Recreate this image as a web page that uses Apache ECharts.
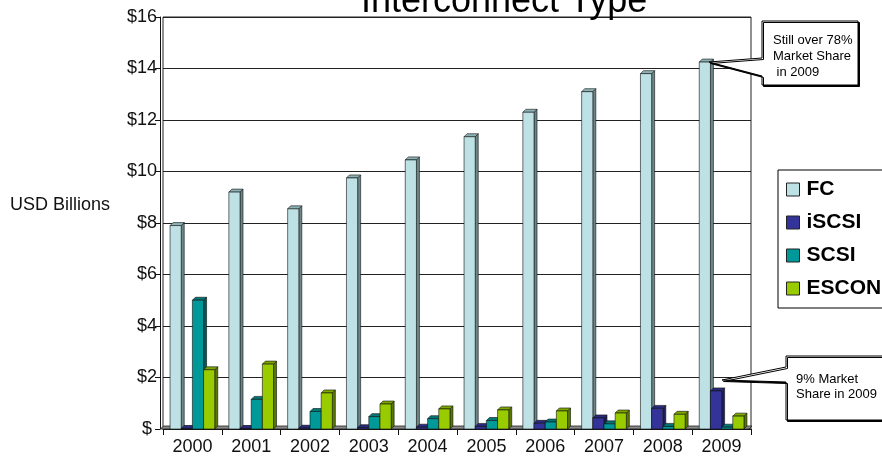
<!DOCTYPE html>
<html>
<head>
<meta charset="utf-8">
<script src="https://cdn.jsdelivr.net/npm/echarts@6/dist/echarts.min.js"></script>
<style>
  html, body { margin: 0; padding: 0; background: #fff; }
  #chart { width: 882px; height: 459px; }
</style>
</head>
<body>
<div id="chart"></div>
<script>
// data
const years = ['2000', '2001', '2002', '2003', '2004', '2005', '2006', '2007', '2008', '2009']
const fcValues = [7.9, 9.2, 8.55, 9.75, 10.45, 11.35, 12.3, 13.1, 13.8, 14.25]
const iscsiValues = [0.02, 0.02, 0.03, 0.05, 0.07, 0.1, 0.22, 0.43, 0.8, 1.48]
const scsiValues = [5.0, 1.15, 0.68, 0.48, 0.4, 0.33, 0.27, 0.2, 0.1, 0.07]
const esconValues = [2.3, 2.52, 1.4, 0.97, 0.78, 0.74, 0.7, 0.62, 0.57, 0.5]
const seriesNames = ['FC', 'iSCSI', 'SCSI', 'ESCON']
const yTickLabels = ['$ ', '$2', '$4', '$6', '$8', '$10', '$12', '$14', '$16']

// front / side / top colours for the fake 3D bars
const faceColors = [
  ['#BDE1E4', '#6C8789', '#8DB1B4'],
  ['#333399', '#1E1E5E', '#2A2A7E'],
  ['#009999', '#005858', '#007777'],
  ['#99CC00', '#5A7800', '#7DA600']
]

const chart = echarts.init(document.getElementById('chart'), null, { renderer: 'canvas' })

const depth = 3
const font = 'Liberation Sans, Arial, sans-serif'

// draws one 3D box per value using the axes' own coordinate system
const renderBar3D = (params, api) => {
  const si = params.seriesIndex
  const cat = api.value(0)
  const val = api.value(1)
  const top = api.coord([cat, val])
  const base = api.coord([cat, 0])
  const catW = api.size([1, 0])[0]
  const barW = catW * 0.19
  const x = top[0] - barW * 2 + si * barW
  const y = top[1]
  const y0 = base[1]
  const cols = faceColors[si]
  const line = { stroke: '#111', lineWidth: 0.6 }
  return {
    type: 'group',
    children: [
      {
        type: 'polygon',
        shape: { points: [[x + barW, y], [x + barW + depth, y - depth], [x + barW + depth, y0 - depth], [x + barW, y0]] },
        style: { fill: cols[1], ...line }
      },
      {
        type: 'polygon',
        shape: { points: [[x, y], [x + depth, y - depth], [x + barW + depth, y - depth], [x + barW, y]] },
        style: { fill: cols[2], ...line }
      },
      {
        type: 'rect',
        shape: { x: x, y: y, width: barW, height: y0 - y },
        style: { fill: cols[0], ...line }
      }
    ]
  }
}

const makeSeries = (name, values) => ({
  name,
  type: 'custom',
  renderItem: renderBar3D,
  encode: { x: 0, y: 1 },
  data: values.map((v, i) => [i, v]),
  z: 3
})

const option = {
  animation: false,
  backgroundColor: '#fff',
  color: faceColors.map((c) => c[0]),
  textStyle: { fontFamily: font },
  title: {
    text: 'Interconnect Type',
    left: 356,
    top: -21,
    textStyle: { fontSize: 36, fontWeight: 'normal', color: '#000', fontFamily: font }
  },
  legend: {
    orient: 'vertical',
    left: 778,
    top: 170,
    padding: [9, 60, 9, 8],
    itemGap: 12,
    itemWidth: 13,
    itemHeight: 13,
    borderColor: '#000',
    borderWidth: 1,
    backgroundColor: '#fff',
    textStyle: { fontSize: 21, fontWeight: 'bold', color: '#000', padding: [0, 0, 0, 2] },
    data: seriesNames.map((n, i) => ({
      name: n,
      icon: 'rect',
      itemStyle: { color: faceColors[i][0], borderColor: '#222', borderWidth: 1 }
    }))
  },
  grid: { left: 163, right: 131, top: 17, bottom: 30, show: true, borderColor: '#222', borderWidth: 1 },
  xAxis: {
    type: 'category',
    data: years,
    boundaryGap: true,
    axisLine: { show: true, lineStyle: { color: '#111', width: 1 } },
    axisTick: { show: true, length: 6, lineStyle: { color: '#111' } },
    axisLabel: { color: '#111', fontSize: 18, margin: 9 },
    splitLine: { show: false }
  },
  yAxis: {
    type: 'value',
    min: 0,
    max: 16,
    interval: 2,
    offset: 3,
    axisLine: { show: true, lineStyle: { color: '#111', width: 1 } },
    axisTick: { show: true, length: 5, lineStyle: { color: '#111' } },
    axisLabel: {
      color: '#111',
      fontSize: 18,
      margin: 3,
      formatter: (v) => yTickLabels[Math.round(v / 2)]
    },
    splitLine: { show: true, lineStyle: { color: '#222', width: 1 } }
  },
  graphic: [
    {
      type: 'text',
      left: 10,
      top: 196,
      style: { text: 'USD Billions', fill: '#111', font: '18px ' + font }
    },
    // grey floor strip
    {
      type: 'polygon',
      z: 1,
      shape: { points: [[160, 429], [164, 426], [752, 426], [749, 429]] },
      style: { fill: '#8a8a8a', stroke: '#222', lineWidth: 0.8 }
    },
    // top callout
    {
      type: 'polygon',
      z: 10,
      shape: { points: [[762, 21], [858, 21], [858, 85], [762, 85], [762, 76], [709, 62], [762, 58]] },
      style: { fill: '#fff', stroke: '#000', lineWidth: 1, shadowColor: '#000', shadowOffsetX: 1.5, shadowOffsetY: 1.5 }
    },
    {
      type: 'text',
      z: 11,
      left: 773,
      top: 32,
      style: {
        text: 'Still over 78%\nMarket Share\n in 2009',
        fill: '#000',
        font: '13px ' + font,
        lineHeight: 16
      }
    },
    // bottom callout
    {
      type: 'polygon',
      z: 10,
      shape: { points: [[786, 356], [890, 356], [890, 420], [786, 420], [786, 382], [722, 380], [786, 367]] },
      style: { fill: '#fff', stroke: '#000', lineWidth: 1, shadowColor: '#000', shadowOffsetX: 1.5, shadowOffsetY: 1.5 }
    },
    {
      type: 'text',
      z: 11,
      left: 796,
      top: 372,
      style: {
        text: '9% Market\nShare in 2009',
        fill: '#000',
        font: '13px ' + font,
        lineHeight: 15
      }
    }
  ],
  series: [
    makeSeries('FC', fcValues),
    makeSeries('iSCSI', iscsiValues),
    makeSeries('SCSI', scsiValues),
    makeSeries('ESCON', esconValues)
  ]
}

chart.setOption(option)
</script>
</body>
</html>
